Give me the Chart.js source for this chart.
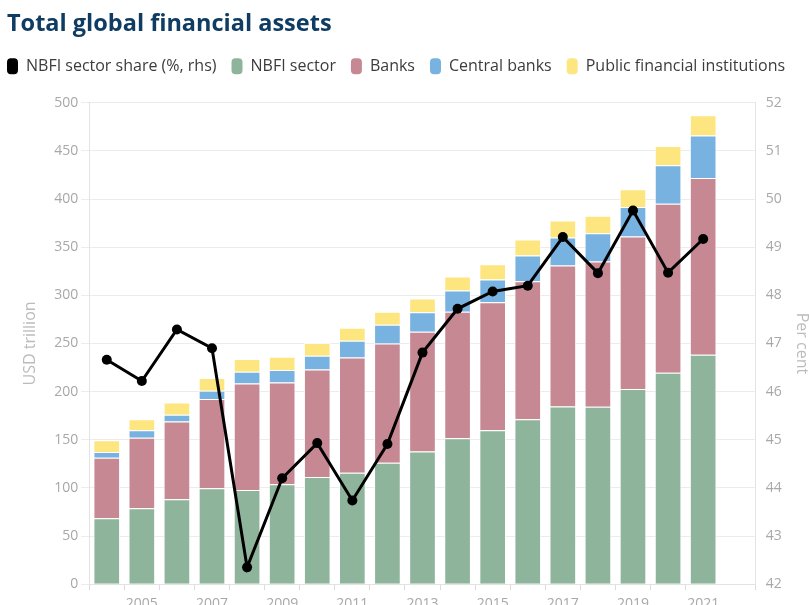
<!DOCTYPE html>
<html>
<head>
<meta charset="utf-8">
<script src="https://cdn.jsdelivr.net/npm/chart.js@4.4.0/dist/chart.umd.min.js"></script>
<style>
  html, body { margin: 0; padding: 0; background: #fff; overflow: hidden; }
  #wrap { width: 817px; height: 617px; position: relative; }
</style>
</head>
<body>
<div id="wrap"><canvas id="c"></canvas></div>
<script>
// Categories (2022 is an empty slot on the axis)
const years = ['2004','2005','2006','2007','2008','2009','2010','2011','2012','2013','2014','2015','2016','2017','2018','2019','2020','2021','2022'];

// USD trillion, stacked
const nbfiSector = [68.4, 78.8, 88.1, 99.6, 97.8, 103.7, 111.3, 115.8, 126.2, 137.7, 151.6, 159.9, 171.4, 184.5, 184.2, 202.6, 219.6, 238.3, null];
const banks      = [63.0, 73.2, 80.8, 92.6, 110.6, 105.8, 111.7, 119.7, 123.8, 124.5, 131.4, 132.8, 143.2, 146.4, 150.9, 158.5, 175.5, 183.5, null];
const centralBanks = [6.0, 7.9, 7.0, 8.6, 12.2, 12.9, 14.3, 17.4, 19.5, 20.1, 21.9, 23.6, 26.7, 29.1, 29.4, 30.5, 39.9, 44.1, null];
const publicFin  = [12.1, 11.5, 12.8, 13.2, 13.2, 13.8, 13.2, 13.5, 13.5, 14.3, 14.6, 16.0, 16.7, 17.7, 18.1, 18.4, 20.0, 21.1, null];

// Per cent, right-hand scale
const nbfiShare = [46.66, 46.22, 47.29, 46.90, 42.35, 44.20, 44.93, 43.74, 44.91, 46.81, 47.72, 48.08, 48.20, 49.21, 48.46, 49.76, 48.47, 49.17, null];

const FONT = '"Open Sans", "DejaVu Sans", sans-serif';
const barBorder = 'rgba(255,255,255,0.7)';

const legendTweak = {
  id: 'legendTweak',
  afterInit(chart) {
    const lg = chart.legend;
    if (!lg) return;
    const origFit = lg.fit.bind(lg);
    lg.fit = function() {
      const mw = this.maxWidth;
      this.maxWidth = mw + 80;
      origFit();
      this.maxWidth = mw;
      this.width = mw;
      this.height += 18.5;
    };
  },
  afterLayout(chart) {
    if (chart.legend) chart.legend.left -= 15;
  }
};

const ctx = document.getElementById('c');
new Chart(ctx, {
  data: {
    labels: years,
    datasets: [
      {
        type: 'line', label: 'NBFI sector share (%, rhs)', data: nbfiShare, yAxisID: 'y1',
        borderColor: '#000', backgroundColor: '#000', borderWidth: 3,
        pointRadius: 5, pointBackgroundColor: '#000', pointBorderColor: '#000', pointBorderWidth: 0,
        tension: 0, order: 0
      },
      { type: 'bar', label: 'NBFI sector', data: nbfiSector, backgroundColor: '#8eb49b', borderColor: barBorder, borderWidth: 1, yAxisID: 'y', order: 1 },
      { type: 'bar', label: 'Banks', data: banks, backgroundColor: '#c68993', borderColor: barBorder, borderWidth: 1, yAxisID: 'y', order: 1 },
      { type: 'bar', label: 'Central banks', data: centralBanks, backgroundColor: '#78b2e0', borderColor: barBorder, borderWidth: 1, yAxisID: 'y', order: 1 },
      { type: 'bar', label: 'Public financial institutions', data: publicFin, backgroundColor: '#fde67f', borderColor: barBorder, borderWidth: 1, yAxisID: 'y', order: 1 }
    ]
  },
  plugins: [legendTweak],
  options: {
    responsive: true,
    maintainAspectRatio: false,
    animation: false,
    datasets: { bar: { barPercentage: 0.76, categoryPercentage: 1 } },
    layout: { padding: { left: 7, right: 0, top: 0, bottom: 0 } },
    plugins: {
      tooltip: { enabled: false },
      title: {
        display: true, text: 'Total global financial assets', align: 'start',
        color: '#0f3c63', font: { family: FONT, size: 23.5, weight: 'bold' },
        padding: { top: 10, bottom: 5 }
      },
      legend: {
        display: true, align: 'start',
        labels: {
          color: '#3c3c3c', font: { family: FONT, size: 16 },
          boxWidth: 11, boxHeight: 16, useBorderRadius: true, borderRadius: 4, padding: 15,
          generateLabels: (chart) => {
            const items = Chart.defaults.plugins.legend.labels.generateLabels(chart);
            return items.map(it => Object.assign(it, { lineWidth: 0, strokeStyle: 'transparent' }));
          }
        }
      }
    },
    scales: {
      x: {
        stacked: true, offset: true,
        grid: { drawOnChartArea: false, tickLength: 6, color: c => c.index === 18 ? 'rgba(0,0,0,0)' : '#dcdcdc' },
        border: { color: '#e3e3e3' },
        ticks: {
          autoSkip: false, maxRotation: 0, padding: 5, color: '#a8a8a8', font: { family: FONT, size: 14 },
          callback: function(v, i) { const y = parseInt(years[i], 10); return (y % 2 === 1 && y <= 2021) ? years[i] : ''; }
        }
      },
      y: {
        stacked: true, position: 'left', min: 0, max: 500,
        grid: { color: '#ececec', tickLength: 8 },
        border: { color: '#e3e3e3' },
        ticks: { stepSize: 50, padding: 3, color: '#a8a8a8', font: { family: FONT, size: 14 } },
        title: { display: true, text: 'USD trillion', color: '#bcbcbc', font: { family: FONT, size: 16 }, padding: { top: 14, bottom: 11 } }
      },
      y1: {
        position: 'right', min: 42, max: 52,
        grid: { drawOnChartArea: false, tickLength: 0 },
        border: { color: '#e3e3e3' },
        ticks: { stepSize: 1, padding: 10, color: '#a8a8a8', font: { family: FONT, size: 14 } },
        title: { display: true, text: 'Per cent', color: '#bcbcbc', font: { family: FONT, size: 16 }, padding: { top: 6, bottom: 0 } }
      }
    }
  }
});
</script>
</body>
</html>
